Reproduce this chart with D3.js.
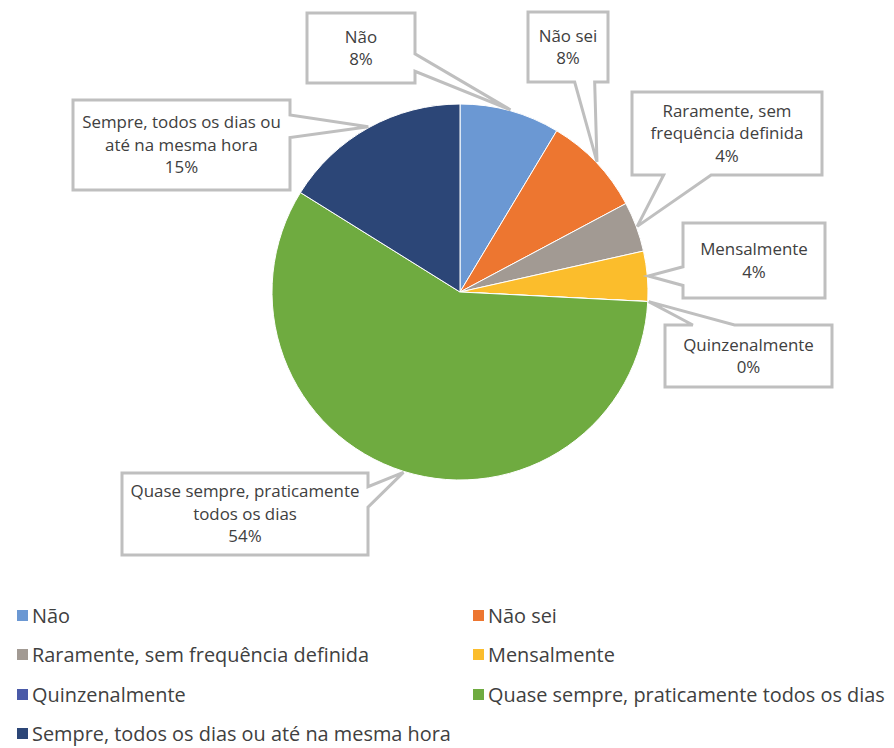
<!DOCTYPE html>
<html>
<head>
<meta charset="utf-8">
<script src="https://cdn.jsdelivr.net/npm/d3@7"></script>
<style>
  html, body { margin: 0; padding: 0; background: #fff; }
  svg { display: block; font-family: "Open Sans", Lato, sans-serif; }
</style>
</head>
<body>
<svg id="chart" width="894" height="748"></svg>
<script>
// Response categories and their shares (%)
const categories = [
  "Não",
  "Não sei",
  "Raramente, sem frequência definida",
  "Mensalmente",
  "Quinzenalmente",
  "Quase sempre, praticamente todos os dias",
  "Sempre, todos os dias ou até na mesma hora"
];
const values = [8, 8, 4, 4, 0, 54, 15];
const colors = ["#6b98d3", "#ed7630", "#a29a93", "#fbbd2c", "#4a5aa8", "#6fab40", "#2c4677"];

// Text lines inside each data-label callout
const labelLines = [
  ["Não"],
  ["Não sei"],
  ["Raramente, sem", "frequência definida"],
  ["Mensalmente"],
  ["Quinzenalmente"],
  ["Quase sempre, praticamente", "todos os dias"],
  ["Sempre, todos os dias ou", "até na mesma hora"]
];

// Callout box placement (x0, y0, x1, y1)
const labelBoxes = [
  [307, 13, 415, 83],
  [528, 12, 608, 82],
  [632, 92, 822, 175],
  [683, 223, 825, 298],
  [665, 325, 832, 387],
  [122, 473, 368, 555],
  [73, 100, 290, 190]
];

const svg = d3.select("#chart");
const cx = 460, cy = 292, radius = 188;

const pie = d3.pie().sort(null).value(d => d);
const arcs = pie(values);
const arc = d3.arc().innerRadius(0).outerRadius(radius);

const gPie = svg.append("g").attr("transform", `translate(${cx},${cy})`);
gPie.selectAll("path")
  .data(arcs)
  .join("path")
  .attr("d", arc)
  .attr("fill", (d, i) => colors[i])
  .attr("stroke", "#ffffff")
  .attr("stroke-width", 1);

// Wedge-rectangle callout outline pointing at (tx, ty)
function calloutPath(b, tx, ty) {
  const [x0, y0, x1, y1] = b;
  const w = x1 - x0, h = y1 - y0;
  const mx = (x0 + x1) / 2, my = (y0 + y1) / 2;
  const dx = tx - mx, dy = ty - my;
  const horizontal = Math.abs(dx) / w > Math.abs(dy) / h;
  const p = d3.path();
  if (horizontal) {
    const a = dy > 0 ? y0 + h * 7 / 12 : y0 + h * 2 / 12;
    const c = dy > 0 ? y0 + h * 10 / 12 : y0 + h * 5 / 12;
    p.moveTo(x0, y0); p.lineTo(x1, y0);
    if (dx > 0) { p.lineTo(x1, a); p.lineTo(tx, ty); p.lineTo(x1, c); }
    p.lineTo(x1, y1); p.lineTo(x0, y1);
    if (dx <= 0) { p.lineTo(x0, c); p.lineTo(tx, ty); p.lineTo(x0, a); }
    p.closePath();
  } else {
    const a = dx > 0 ? x0 + w * 7 / 12 : x0 + w * 2 / 12;
    const c = dx > 0 ? x0 + w * 10 / 12 : x0 + w * 5 / 12;
    p.moveTo(x0, y0);
    if (dy < 0) { p.lineTo(a, y0); p.lineTo(tx, ty); p.lineTo(c, y0); }
    p.lineTo(x1, y0); p.lineTo(x1, y1);
    if (dy >= 0) { p.lineTo(c, y1); p.lineTo(tx, ty); p.lineTo(a, y1); }
    p.lineTo(x0, y1);
    p.closePath();
  }
  return p.toString();
}

const gLabels = svg.append("g");
arcs.forEach((d, i) => {
  const mid = (d.startAngle + d.endAngle) / 2;
  const tx = cx + Math.sin(mid) * (radius + 1);
  const ty = cy - Math.cos(mid) * (radius + 1);
  const b = labelBoxes[i];
  const g = gLabels.append("g");
  g.append("path")
    .attr("d", calloutPath(b, tx, ty))
    .attr("fill", "#ffffff")
    .attr("stroke", "#bfbfbf")
    .attr("stroke-width", 3)
    .attr("stroke-linejoin", "miter");
  const lines = labelLines[i].concat([`${values[i]}%`]);
  const lh = 22.5;
  const bx = (b[0] + b[2]) / 2, by = (b[1] + b[3]) / 2;
  const t = g.append("text")
    .attr("text-anchor", "middle")
    .attr("fill", "#404040")
    .attr("font-size", 16.9);
  lines.forEach((s, k) => {
    t.append("tspan")
      .attr("x", bx)
      .attr("y", by + (k - (lines.length - 1) / 2) * lh)
      .attr("dy", "0.35em")
      .text(s);
  });
});

// Legend: two columns, filled row by row
const legendCols = [17, 473];
const legendRows = [616, 655, 695, 734];
const gLegend = svg.append("g");
categories.forEach((c, i) => {
  const x = legendCols[i % 2];
  const y = legendRows[Math.floor(i / 2)];
  gLegend.append("rect")
    .attr("x", x).attr("y", y - 6)
    .attr("width", 11).attr("height", 11)
    .attr("fill", colors[i]);
  gLegend.append("text")
    .attr("x", x + 15).attr("y", y)
    .attr("dy", "0.35em")
    .attr("fill", "#404040")
    .attr("font-size", 19.9)
    .text(c);
});
</script>
</body>
</html>
